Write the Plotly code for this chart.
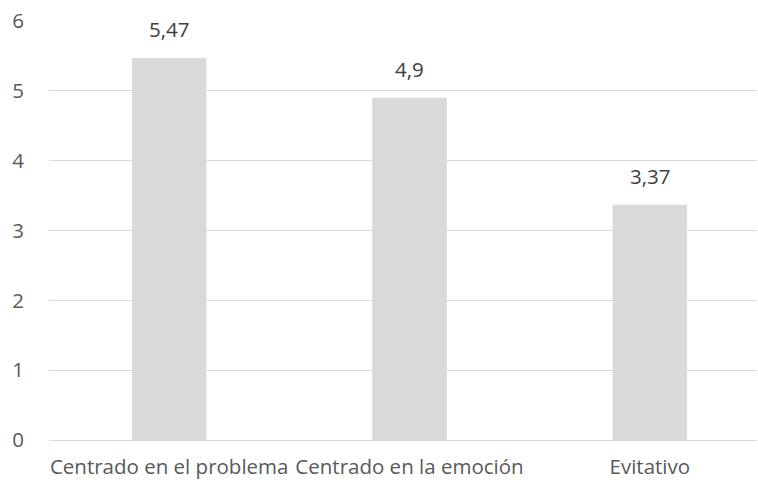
import plotly.graph_objects as go

categories = ["Centrado en el problema", "Centrado en la emoción", "Evitativo"]
values = [5.47, 4.9, 3.37]
labels = [str(v).replace(".", ",") for v in values]
y_ticks = [0, 1, 2, 3, 4, 5, 6]

font_family = "'Open Sans', sans-serif"
txt_color = "#595959"
fsize = 20.5

fig = go.Figure()
fig.add_trace(go.Bar(
    x=list(range(len(categories))), y=values,
    marker=dict(color="#d9d9d9", line=dict(width=0)),
    width=0.31,
))
for i, (v, lab) in enumerate(zip(values, labels)):
    fig.add_annotation(
        x=i, y=v, text=lab, showarrow=False, xref="x", yref="y",
        yanchor="bottom", yshift=13,
        font=dict(family=font_family, size=fsize, color="#404040"),
    )

fig.update_layout(
    width=758, height=483,
    margin=dict(l=49, r=1, t=21, b=43),
    paper_bgcolor="white", plot_bgcolor="white",
    showlegend=False,
    font=dict(family=font_family, size=fsize, color=txt_color),
)
fig.update_xaxes(
    range=[-0.5, 2.446], tickmode="array", tickvals=list(range(len(categories))), ticktext=categories,
    showgrid=False, zeroline=False, showline=False, ticks="",
    tickfont=dict(family=font_family, size=fsize, color=txt_color),
    ticklabelstandoff=12, tickangle=0,
)
fig.update_yaxes(
    range=[0, 6], tickmode="array", tickvals=y_ticks, ticktext=[str(t) for t in y_ticks],
    showgrid=True, gridcolor="#d9d9d9", gridwidth=1,
    zeroline=True, zerolinecolor="#d9d9d9", zerolinewidth=1, showline=False, ticks="",
    tickfont=dict(family=font_family, size=fsize, color=txt_color),
    ticklabelstandoff=24,
)
fig.write_html("out.html")
